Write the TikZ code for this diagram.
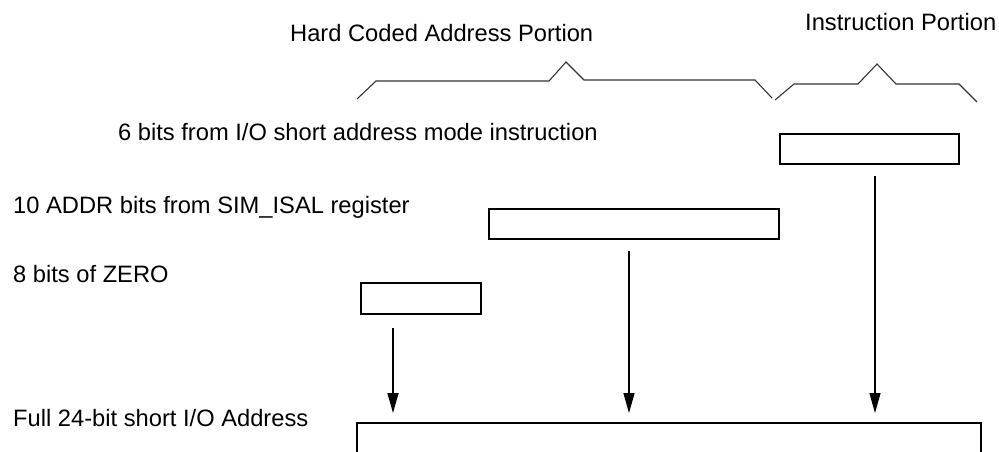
\documentclass[tikz,border=0pt]{standalone}
\usepackage{fontspec}
\setmainfont{Liberation Sans}
\usetikzlibrary{arrows.meta}
\begin{document}
\begin{tikzpicture}[x=1pt,y=-1pt,
  lbl/.style={anchor=base west,inner sep=0pt,font=\fontsize{23.7}{28}\selectfont},
  bitbox/.style={draw,line width=1.7pt,anchor=north west,inner sep=0pt},
  arr/.style={line width=1.3pt,-{Triangle[length=20pt,width=11pt]}},
  brace/.style={line width=1.1pt,draw=black!80,line join=miter}]
\clip (0,0) rectangle (999,451);
\useasboundingbox (0,0) rectangle (999,451);
% labels
\node[lbl] (hc) at (290,41) {Hard Coded Address Portion};
\node[lbl] (ip) at (805,30) {Instruction Portion};
\node[lbl] (l6) at (118,140) {6 bits from I/O short address mode instruction};
\node[lbl] (l10) at (13,213) {10 ADDR bits from SIM\_ISAL register};
\node[lbl] (l8) at (13,282) {8 bits of ZERO};
\node[lbl] (lf) at (13,426) {Full 24-bit short I/O Address};
% braces
\draw[brace] (357,99) -- (376,81) -- (549,81) -- (566,62) -- (584,80) -- (755,80) -- (772,98);
\draw[brace] (775,100) -- (794,84) -- (858,84) -- (877,64) -- (896,84) -- (959,84) -- (977,102);
% boxes
\node[bitbox,minimum width=179pt,minimum height=30pt] (inst) at (779,133) {};
\node[bitbox,minimum width=290pt,minimum height=30pt] (addr) at (488,208) {};
\node[bitbox,minimum width=120pt,minimum height=31pt] (zero) at (360,282) {};
\node[bitbox,minimum width=624pt,minimum height=80pt] (full) at (356,422) {};
% arrows
\coordinate (a1s) at (393,328);
\coordinate (a1e) at (393,413);
\coordinate (a2s) at (629,251);
\coordinate (a2e) at (629,413);
\coordinate (a3s) at (875,176);
\coordinate (a3e) at (875,413);
\draw[arr] (a1s) -- (a1e);
\draw[arr] (a2s) -- (a2e);
\draw[arr] (a3s) -- (a3e);
\end{tikzpicture}
\end{document}
